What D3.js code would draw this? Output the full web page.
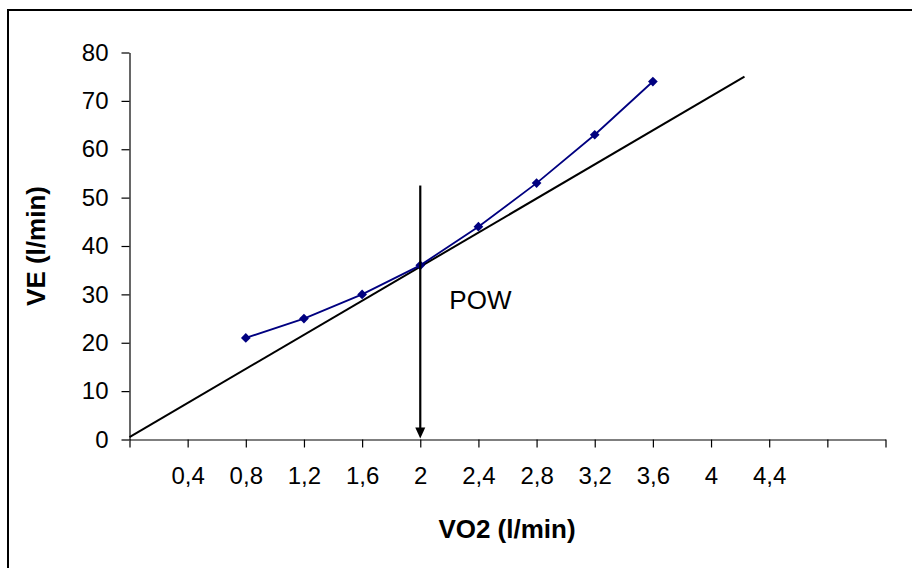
<!DOCTYPE html>
<html><head><meta charset="utf-8">
<script src="https://cdn.jsdelivr.net/npm/d3@7"></script>
<style>body{margin:0;background:#fff}svg{display:block}text{font-family:"Liberation Sans",Arial,sans-serif}</style>
</head><body><svg id="c" width="912" height="568"></svg>
<script>
const vo2 = [0.8, 1.2, 1.6, 2.0, 2.4, 2.8, 3.2, 3.6];
const ve = [21, 25, 30, 36, 44, 53, 63, 74];
const trendX = [0, 4.23];
const trendY = [0.5, 75];
const powX = 2;
const powTop = 52.5;
const xTicks = [0,0.4,0.8,1.2,1.6,2.0,2.4,2.8,3.2,3.6,4.0,4.4,4.8,5.2];
const xLabelled = [0.4,0.8,1.2,1.6,2.0,2.4,2.8,3.2,3.6,4.0,4.4];
const yTicks = [0,10,20,30,40,50,60,70,80];

const svg = d3.select("#c");
svg.append("rect").attr("x",8).attr("y",10).attr("width",920).attr("height",580)
  .attr("fill","#fff").attr("stroke","#000").attr("stroke-width",2);

const x = d3.scaleLinear().domain([0,5.2]).range([129.5,885.5]);
const y = d3.scaleLinear().domain([0,80]).range([439.5,52.5]);
const fmt = v => String(+v.toFixed(1)).replace(".", ",");

const xa = svg.append("g").attr("transform","translate(0,439.5)")
  .call(d3.axisBottom(x).tickValues(xTicks).tickSize(8).tickSizeOuter(0)
    .tickFormat(v => xLabelled.some(l => Math.abs(l-v)<1e-9) ? fmt(v) : ""));
xa.selectAll("text").attr("font-size",24).attr("fill","#000").attr("dy","1.1em").attr("y",18);
const ya = svg.append("g").attr("transform","translate(129.5,0)")
  .call(d3.axisLeft(y).tickValues(yTicks).tickSize(8).tickSizeOuter(0));
ya.selectAll("text").attr("font-size",24).attr("fill","#000").attr("x",-21);
svg.selectAll(".domain,.tick line").attr("stroke","#000").attr("stroke-width",1.2);

// trend line
svg.append("line").attr("x1",x(trendX[0])).attr("y1",y(trendY[0]))
  .attr("x2",x(trendX[1])).attr("y2",y(trendY[1])).attr("stroke","#000").attr("stroke-width",2);

// data line
const pts = vo2.map((v,i)=>[v,ve[i]]);
svg.append("path").datum(pts).attr("fill","none").attr("stroke","#000080").attr("stroke-width",1.8)
  .attr("d", d3.line().x(d=>x(d[0])).y(d=>y(d[1])));
svg.selectAll(".m").data(pts).enter().append("path")
  .attr("transform",d=>`translate(${x(d[0])},${y(d[1])})`)
  .attr("d", d3.symbol(d3.symbolDiamond2, 60)()).attr("fill","#000080");

// POW arrow
const ax = x(powX);
svg.append("line").attr("x1",ax).attr("x2",ax).attr("y1",y(powTop)).attr("y2",y(0)-10)
  .attr("stroke","#000").attr("stroke-width",2.2);
svg.append("path").attr("d",`M${ax-5},${y(0)-12}L${ax+5},${y(0)-12}L${ax},${y(0)-1}Z`).attr("fill","#000");
svg.append("text").attr("x",x(2.2)).attr("y",y(27)).attr("font-size",26).text("POW");

svg.append("text").attr("x",507).attr("y",538).attr("text-anchor","middle")
  .attr("font-size",26).attr("font-weight","bold").text("VO2 (l/min)");
svg.append("text").attr("transform","translate(45,246) rotate(-90)").attr("text-anchor","middle")
  .attr("font-size",26).attr("font-weight","bold").text("VE (l/min)");
</script></body></html>
